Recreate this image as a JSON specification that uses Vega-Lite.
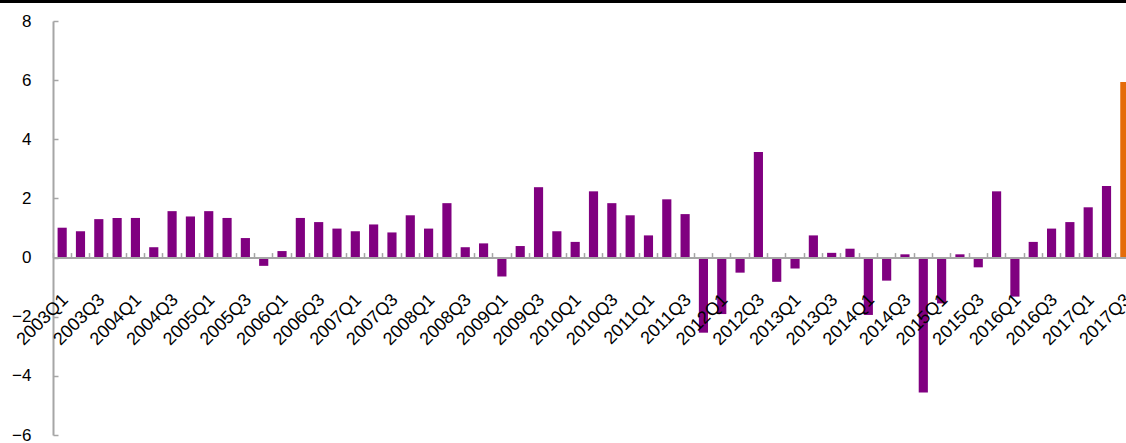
{
  "$schema": "https://vega.github.io/schema/vega-lite/v6.json",
  "width": 1073,
  "height": 414,
  "autosize": {"type": "none"},
  "padding": {"left": 53, "top": 21, "right": 0, "bottom": 8},
  "background": "white",
  "config": {"view": {"stroke": null}, "font": "Liberation Sans"},
  "data": {
    "values": [
      {"quarter": "2003Q1", "value": 1.01, "series": "history"},
      {"quarter": "2003Q2", "value": 0.89, "series": "history"},
      {"quarter": "2003Q3", "value": 1.30, "series": "history"},
      {"quarter": "2003Q4", "value": 1.34, "series": "history"},
      {"quarter": "2004Q1", "value": 1.34, "series": "history"},
      {"quarter": "2004Q2", "value": 0.35, "series": "history"},
      {"quarter": "2004Q3", "value": 1.57, "series": "history"},
      {"quarter": "2004Q4", "value": 1.39, "series": "history"},
      {"quarter": "2005Q1", "value": 1.57, "series": "history"},
      {"quarter": "2005Q2", "value": 1.34, "series": "history"},
      {"quarter": "2005Q3", "value": 0.66, "series": "history"},
      {"quarter": "2005Q4", "value": -0.28, "series": "history"},
      {"quarter": "2006Q1", "value": 0.22, "series": "history"},
      {"quarter": "2006Q2", "value": 1.34, "series": "history"},
      {"quarter": "2006Q3", "value": 1.20, "series": "history"},
      {"quarter": "2006Q4", "value": 0.98, "series": "history"},
      {"quarter": "2007Q1", "value": 0.89, "series": "history"},
      {"quarter": "2007Q2", "value": 1.12, "series": "history"},
      {"quarter": "2007Q3", "value": 0.85, "series": "history"},
      {"quarter": "2007Q4", "value": 1.43, "series": "history"},
      {"quarter": "2008Q1", "value": 0.98, "series": "history"},
      {"quarter": "2008Q2", "value": 1.84, "series": "history"},
      {"quarter": "2008Q3", "value": 0.35, "series": "history"},
      {"quarter": "2008Q4", "value": 0.48, "series": "history"},
      {"quarter": "2009Q1", "value": -0.64, "series": "history"},
      {"quarter": "2009Q2", "value": 0.39, "series": "history"},
      {"quarter": "2009Q3", "value": 2.38, "series": "history"},
      {"quarter": "2009Q4", "value": 0.89, "series": "history"},
      {"quarter": "2010Q1", "value": 0.53, "series": "history"},
      {"quarter": "2010Q2", "value": 2.24, "series": "history"},
      {"quarter": "2010Q3", "value": 1.84, "series": "history"},
      {"quarter": "2010Q4", "value": 1.43, "series": "history"},
      {"quarter": "2011Q1", "value": 0.75, "series": "history"},
      {"quarter": "2011Q2", "value": 1.97, "series": "history"},
      {"quarter": "2011Q3", "value": 1.47, "series": "history"},
      {"quarter": "2011Q4", "value": -2.54, "series": "history"},
      {"quarter": "2012Q1", "value": -1.91, "series": "history"},
      {"quarter": "2012Q2", "value": -0.51, "series": "history"},
      {"quarter": "2012Q3", "value": 3.57, "series": "history"},
      {"quarter": "2012Q4", "value": -0.82, "series": "history"},
      {"quarter": "2013Q1", "value": -0.37, "series": "history"},
      {"quarter": "2013Q2", "value": 0.75, "series": "history"},
      {"quarter": "2013Q3", "value": 0.16, "series": "history"},
      {"quarter": "2013Q4", "value": 0.30, "series": "history"},
      {"quarter": "2014Q1", "value": -1.94, "series": "history"},
      {"quarter": "2014Q2", "value": -0.78, "series": "history"},
      {"quarter": "2014Q3", "value": 0.11, "series": "history"},
      {"quarter": "2014Q4", "value": -4.56, "series": "history"},
      {"quarter": "2015Q1", "value": -1.55, "series": "history"},
      {"quarter": "2015Q2", "value": 0.11, "series": "history"},
      {"quarter": "2015Q3", "value": -0.33, "series": "history"},
      {"quarter": "2015Q4", "value": 2.24, "series": "history"},
      {"quarter": "2016Q1", "value": -1.32, "series": "history"},
      {"quarter": "2016Q2", "value": 0.53, "series": "history"},
      {"quarter": "2016Q3", "value": 0.98, "series": "history"},
      {"quarter": "2016Q4", "value": 1.20, "series": "history"},
      {"quarter": "2017Q1", "value": 1.70, "series": "history"},
      {"quarter": "2017Q2", "value": 2.42, "series": "history"},
      {"quarter": "2017Q3", "value": 5.94, "series": "latest"}
    ]
  },
  "resolve": {"scale": {"x": "independent"}},
  "layer": [
    {
      "mark": {"type": "bar", "width": {"band": 0.5}},
      "encoding": {
        "x": {
          "field": "quarter",
          "type": "nominal",
          "sort": null,
          "scale": {"range": [0, 1081], "paddingInner": 0, "paddingOuter": 0},
          "axis": {
            "orient": "bottom",
            "offset": -177.43,
            "title": null,
            "ticks": false,
            "domain": true,
            "domainColor": "#a6a6a6",
            "domainWidth": 2,
            "labelAngle": -45,
            "labelFontSize": 18,
            "labelColor": "black",
            "labelPadding": 33,
            "labelOffset": -3,
            "labelOverlap": false,
            "zindex": 1,
            "values": ["2003Q1","2003Q3","2004Q1","2004Q3","2005Q1","2005Q3","2006Q1","2006Q3","2007Q1","2007Q3","2008Q1","2008Q3","2009Q1","2009Q3","2010Q1","2010Q3","2011Q1","2011Q3","2012Q1","2012Q3","2013Q1","2013Q3","2014Q1","2014Q3","2015Q1","2015Q3","2016Q1","2016Q3","2017Q1","2017Q3"]
          }
        },
        "y": {
          "field": "value",
          "type": "quantitative",
          "scale": {"domain": [-6, 8], "nice": false, "zero": false},
          "axis": {
            "title": null,
            "values": [-6, -4, -2, 0, 2, 4, 6, 8],
            "grid": false,
            "domainColor": "#a6a6a6",
            "domainWidth": 2,
            "tickColor": "#a6a6a6",
            "tickWidth": 1.5,
            "tickSize": -5,
            "labelFontSize": 17,
            "labelColor": "black",
            "labelPadding": 27,
            "zindex": 0
          }
        },
        "color": {
          "field": "series",
          "type": "nominal",
          "scale": {"domain": ["history", "latest"], "range": ["#800080", "#E46C0A"]},
          "legend": null
        }
      }
    },
    {
      "mark": {"type": "bar", "opacity": 0, "width": {"band": 0.5}},
      "encoding": {
        "x": {
          "field": "quarter",
          "type": "nominal",
          "sort": null,
          "scale": {"range": [0, 1081], "paddingInner": 0, "paddingOuter": 0},
          "axis": {
            "orient": "top",
            "offset": -236.57,
            "title": null,
            "labels": false,
            "domain": false,
            "ticks": true,
            "bandPosition": 0,
            "tickSize": 5,
            "tickColor": "#a6a6a6",
            "tickWidth": 1.5,
            "zindex": 1
          }
        },
        "y": {"field": "value", "type": "quantitative"}
      }
    },
    {
      "mark": {"type": "rule", "color": "black", "strokeWidth": 3, "clip": false},
      "encoding": {
        "x": {"datum": 0, "type": "quantitative", "scale": {"domain": [0, 1], "range": [-53, 1073]}, "axis": null},
        "x2": {"datum": 1},
        "y": {"datum": 8.66, "type": "quantitative"}
      }
    }
  ]
}
